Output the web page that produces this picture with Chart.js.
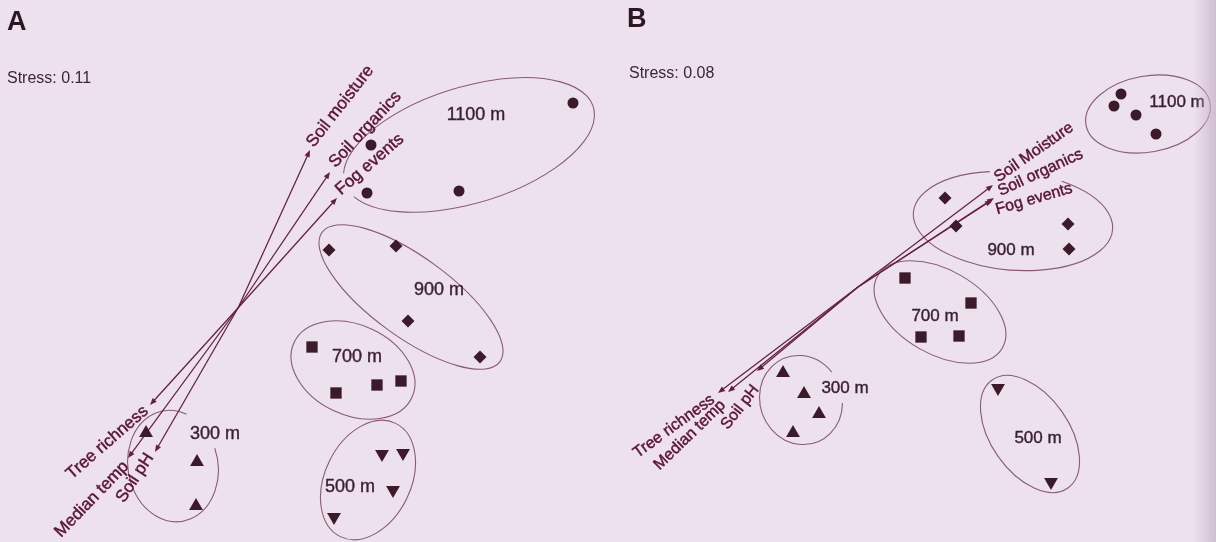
<!DOCTYPE html>
<html>
<head>
<meta charset="utf-8">
<script src="https://cdn.jsdelivr.net/npm/chart.js@4.4.0/dist/chart.umd.min.js"></script>
<style>
  body { margin: 0; background: #ece1ec; }
  #wrap { position: relative; width: 1216px; height: 542px; overflow: hidden; }
  #wrap canvas { position: absolute; top: 0; }
  #panelA { left: 0; }
  #panelB { left: 608px; }
  #edge { position: absolute; right: 0; top: 0; width: 22px; height: 542px;
    background: linear-gradient(to right, rgba(205,188,205,0), rgba(202,184,203,0.85)); }
</style>
</head>
<body>
<div id="wrap">
  <canvas id="panelA" width="608" height="542"></canvas>
  <canvas id="panelB" width="608" height="542"></canvas>
  <div id="edge"></div>
</div>
<script>
// NMDS site scores (NMDS1, NMDS2)
const groups = ["1100 m", "900 m", "700 m", "500 m", "300 m"];

// panel A
const sitesA1100 = [[1.33, 1.63], [1.29, 1.15], [2.21, 1.17], [3.35, 2.05]];
const sitesA900 = [[0.91, 0.58], [1.58, 0.62], [1.70, -0.13], [2.42, -0.49]];
const sitesA700 = [[0.74, -0.39], [0.98, -0.85], [1.39, -0.77], [1.63, -0.73]];
const sitesA500 = [[1.44, -1.46], [1.65, -1.45], [1.55, -1.82], [0.96, -2.09]];
const sitesA300 = [[-0.92, -1.25], [-0.41, -1.54], [-0.42, -1.98]];

// panel B
const sitesB1100 = [[2.63, 1.93], [2.56, 1.81], [2.78, 1.72], [2.98, 1.53]];
const sitesB900 = [[0.87, 0.89], [0.98, 0.61], [2.10, 0.63], [2.11, 0.38]];
const sitesB700 = [[0.47, 0.09], [1.13, -0.16], [0.63, -0.50], [1.01, -0.49]];
const sitesB500 = [[1.40, -1.01], [1.93, -1.95]];
const sitesB300 = [[-0.75, -0.86], [-0.54, -1.07], [-0.39, -1.27], [-0.65, -1.46]];

// environmental vectors (fitted arrows)
const envNamesA = ["Soil moisture", "Soil organics", "Fog events", "Tree richness", "Median temp", "Soil pH"];
const envNamesB = ["Soil Moisture", "Soil organics", "Fog events", "Tree richness", "Median temp", "Soil pH"];
const envA = [[0.72, 1.58], [0.92, 1.36], [0.99, 1.10], [-0.88, -0.97], [-1.10, -1.50], [-0.83, -1.44]];
const envB = [[1.35, 1.02], [1.36, 0.89], [1.34, 0.87], [-1.40, -1.06], [-1.30, -1.05], [-1.01, -0.84]];

// group ellipses: centre, semi axes, tilt (deg)
const ellCentreA = [[2.31, 1.63], [1.73, 0.11], [1.15, -0.62], [1.30, -1.72], [-0.65, -1.58]];
const ellAxesA = [[1.30, 0.58], [1.10, 0.40], [0.65, 0.45], [0.63, 0.43], [0.56, 0.45]];
const ellTiltA = [17, -36, -25, 64, 100];
const ellCentreB = [[2.90, 1.73], [1.55, 0.66], [0.82, -0.25], [1.72, -1.47], [-0.57, -1.13]];
const ellAxesB = [[0.63, 0.38], [1.00, 0.49], [0.72, 0.42], [0.66, 0.39], [0.45, 0.41]];
const ellTiltB = [10, -5, -30, -55, 110];

const stressA = 0.11;
const stressB = 0.08;

// ---- styling / annotation layout ----
const MARK = "#3b1b2b";
const LINE = "#62203f";
const LABEL = "#5a1535";
const RING = "#8b5a77";
const FONT = "'Liberation Sans', Arial, sans-serif";

const shapes = [
  { pointStyle: "circle", pointRadius: 5.5, rot: 0 },
  { pointStyle: "rectRot", pointRadius: 6.5, rot: 0 },
  { pointStyle: "rect", pointRadius: 8, rot: 0 },
  { pointStyle: "triangle", pointRadius: 8, rot: 180 },
  { pointStyle: "triangle", pointRadius: 8, rot: 0 },
];

const panelA = {
  letter: "A", stress: stressA, letterX: 7, letterY: 30, stressX: 7, stressY: 83,
  xMin: -2.38, xMax: 3.70, yMin: -2.34, yMax: 3.08,
  sites: [sitesA1100, sitesA900, sitesA700, sitesA500, sitesA300],
  envNames: envNamesA, env: envA,
  envAngle: [-52, -47, -41, -41, -46, -57],
  envOffset: [[0, -5], [2, -7], [1, -6], [-4, 4], [-2, 6], [-5, 3]],
  envFont: 17,
  ell: { c: ellCentreA, ax: ellAxesA, tilt: ellTiltA },
  gaps: { 0: [[1.07, 1.35], [1.15, 1.11]], 4: [[-0.52, -1.08], [-0.23, -1.40]] },
  groupPos: [[2.38, 1.93], [2.01, 0.18], [1.19, -0.49], [1.12, -1.79], [-0.23, -1.26]],
  groupFont: 18,
};
const panelB = {
  letter: "B", stress: stressB, letterX: 19, letterY: 27, stressX: 21, stressY: 78,
  xMin: -2.50, xMax: 3.58, yMin: -2.55, yMax: 2.87,
  sites: [sitesB1100, sitesB900, sitesB700, sitesB500, sitesB300],
  envNames: envNamesB, env: envB,
  envAngle: [-35, -25, -16, -36, -44, -52],
  envOffset: [[3, -6], [5, -6], [4, 10], [-5, 5], [-5, 11], [-1, 16]],
  envFont: 16,
  ell: { c: ellCentreB, ax: ellAxesB, tilt: ellTiltB },
  gaps: { 1: [[1.32, 1.15], [2.09, 1.10]], 4: [[-0.25, -0.84], [-0.16, -1.16]] },
  groupPos: [[3.19, 1.85], [1.53, 0.37], [0.77, -0.29], [1.80, -1.51], [-0.13, -1.01]],
  groupFont: 17,
};

// fill + hairline stroke, the scanned figure has slightly heavy type
function heavyText(ctx, txt, x, y) {
  ctx.fillText(txt, x, y);
  ctx.strokeText(txt, x, y);
}

const ordiPlugin = {
  id: "ordi",
  beforeDatasetsDraw(chart) {
    const p = chart.options.plugins.ordi.panel;
    const ctx = chart.ctx;
    const xs = chart.scales.x, ys = chart.scales.y;
    const X = (v) => xs.getPixelForValue(v);
    const Y = (v) => ys.getPixelForValue(v);
    const unit = X(1) - X(0);

    // ellipses
    ctx.save();
    ctx.strokeStyle = RING;
    ctx.lineWidth = 1.1;
    p.ell.c.forEach((c, i) => {
      const cx = X(c[0]), cy = Y(c[1]);
      const rx = p.ell.ax[i][0] * unit, ry = p.ell.ax[i][1] * unit;
      const rot = -p.ell.tilt[i] * Math.PI / 180;
      let t0 = 0, t1 = Math.PI * 2;
      const g = p.gaps[i];
      if (g) {
        const param = (pt) => {
          const dx = X(pt[0]) - cx, dy = Y(pt[1]) - cy;
          const lx = dx * Math.cos(-rot) - dy * Math.sin(-rot);
          const ly = dx * Math.sin(-rot) + dy * Math.cos(-rot);
          return Math.atan2(ly / ry, lx / rx);
        };
        let g1 = param(g[0]), g2 = param(g[1]);
        let span = g2 - g1;
        while (span < 0) span += Math.PI * 2;
        if (span > Math.PI) { const t = g1; g1 = g2; g2 = t; }
        t0 = g2;
        t1 = g1;
        while (t1 <= t0) t1 += Math.PI * 2;
      }
      ctx.beginPath();
      ctx.ellipse(cx, cy, rx, ry, rot, t0, t1);
      ctx.stroke();
    });
    ctx.restore();

    // arrows
    ctx.save();
    ctx.strokeStyle = LINE;
    ctx.fillStyle = LINE;
    ctx.lineWidth = 1.25;
    const ox = X(0), oy = Y(0);
    p.env.forEach((v) => {
      const hx = X(v[0]), hy = Y(v[1]);
      const a = Math.atan2(hy - oy, hx - ox);
      ctx.beginPath();
      ctx.moveTo(ox, oy);
      ctx.lineTo(hx - 4 * Math.cos(a), hy - 4 * Math.sin(a));
      ctx.stroke();
      ctx.beginPath();
      ctx.moveTo(hx, hy);
      ctx.lineTo(hx - 7 * Math.cos(a) + 2.8 * Math.sin(a), hy - 7 * Math.sin(a) - 2.8 * Math.cos(a));
      ctx.lineTo(hx - 7 * Math.cos(a) - 2.8 * Math.sin(a), hy - 7 * Math.sin(a) + 2.8 * Math.cos(a));
      ctx.closePath();
      ctx.fill();
    });
    ctx.restore();

    // arrow labels
    ctx.save();
    ctx.fillStyle = LABEL;
    ctx.strokeStyle = LABEL;
    ctx.lineWidth = 0.45;
    ctx.font = p.envFont + "px " + FONT;
    ctx.textBaseline = "middle";
    p.env.forEach((v, i) => {
      const hx = X(v[0]), hy = Y(v[1]);
      ctx.save();
      ctx.translate(hx + p.envOffset[i][0], hy + p.envOffset[i][1]);
      ctx.rotate(p.envAngle[i] * Math.PI / 180);
      ctx.textAlign = v[0] > 0 ? "left" : "right";
      heavyText(ctx, p.envNames[i], 0, 0);
      ctx.restore();
    });
    ctx.restore();

    // group labels
    ctx.save();
    ctx.fillStyle = "#3a1f30";
    ctx.strokeStyle = "#3a1f30";
    ctx.lineWidth = 0.4;
    ctx.font = p.groupFont + "px " + FONT;
    ctx.textAlign = "center";
    ctx.textBaseline = "middle";
    groups.forEach((g, i) => heavyText(ctx, g, X(p.groupPos[i][0]), Y(p.groupPos[i][1])));
    ctx.restore();

    // panel letter + stress
    ctx.save();
    ctx.fillStyle = "#2e1624";
    ctx.font = "bold 27px " + FONT;
    ctx.fillText(p.letter, p.letterX, p.letterY);
    ctx.fillStyle = "#3d2636";
    ctx.font = "16px " + FONT;
    ctx.fillText("Stress: " + p.stress.toFixed(2), p.stressX, p.stressY);
    ctx.restore();
  },
};

function makeChart(id, p) {
  const datasets = p.sites.map((pts, i) => ({
    label: groups[i],
    data: pts.map((s) => ({ x: s[0], y: s[1] })),
    pointStyle: shapes[i].pointStyle,
    pointRadius: shapes[i].pointRadius,
    rotation: shapes[i].rot,
    backgroundColor: MARK,
    borderColor: MARK,
    borderWidth: 0,
  }));
  return new Chart(document.getElementById(id).getContext("2d"), {
    type: "scatter",
    data: { datasets: datasets },
    options: {
      responsive: false,
      animation: false,
      events: [],
      layout: { padding: 0, autoPadding: false },
      plugins: {
        legend: { display: false },
        tooltip: { enabled: false },
        ordi: { panel: p },
      },
      scales: {
        x: { type: "linear", min: p.xMin, max: p.xMax, display: false },
        y: { type: "linear", min: p.yMin, max: p.yMax, display: false },
      },
    },
    plugins: [ordiPlugin],
  });
}

makeChart("panelA", panelA);
makeChart("panelB", panelB);
</script>
</body>
</html>
